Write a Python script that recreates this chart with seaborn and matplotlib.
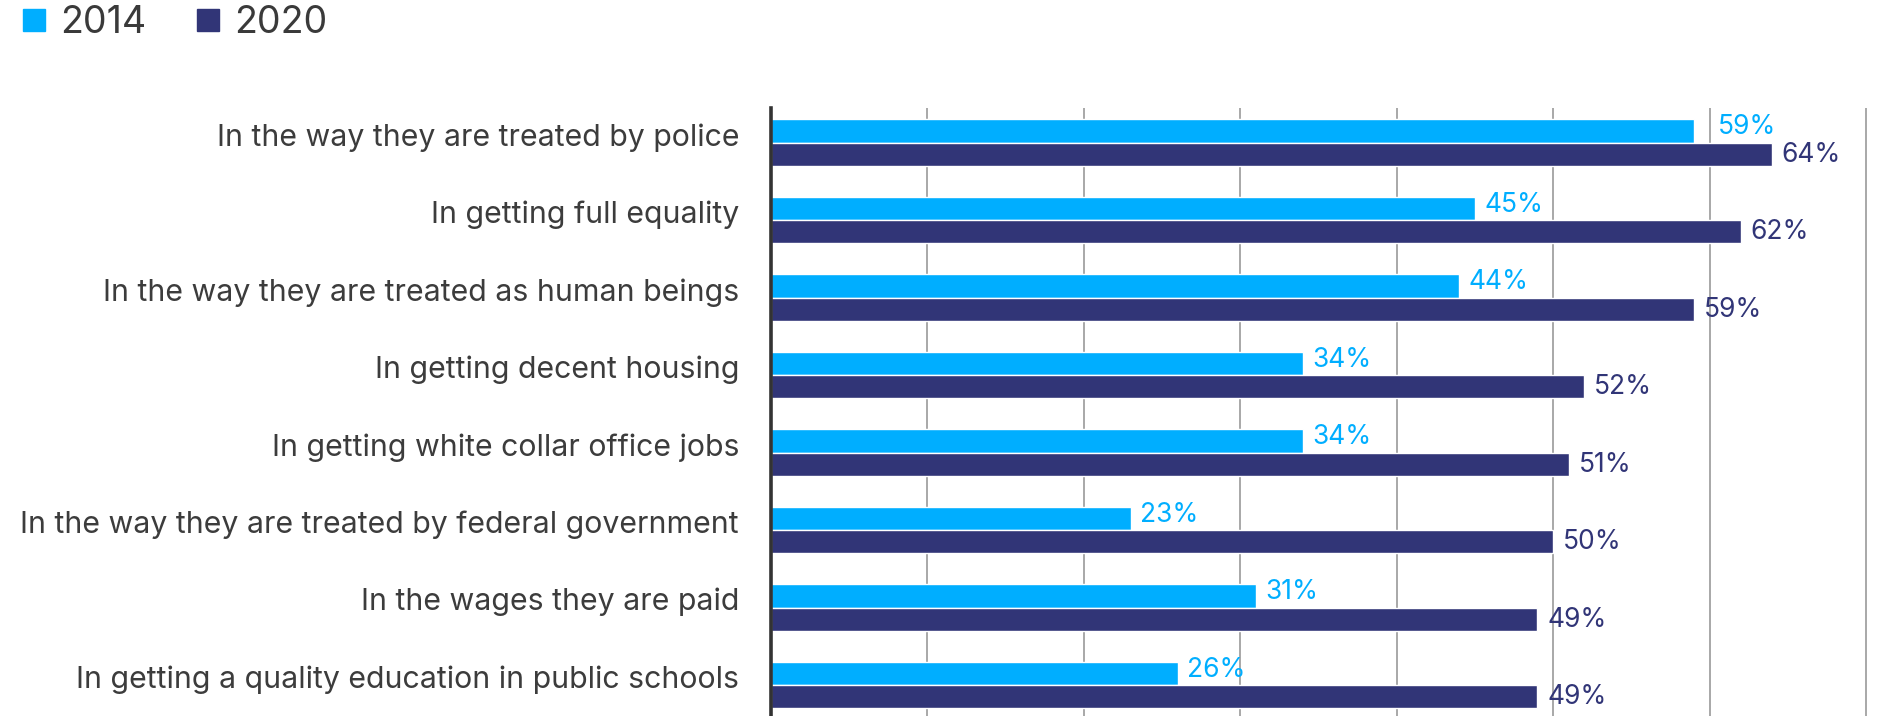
import matplotlib
matplotlib.use("Agg")
import matplotlib.pyplot as plt
from matplotlib.lines import Line2D
from matplotlib.transforms import ScaledTranslation
import seaborn as sns
import pandas as pd

categories = [
    "In the way they are treated by police",
    "In getting full equality",
    "In the way they are treated as human beings",
    "In getting decent housing",
    "In getting white collar office jobs",
    "In the way they are treated by federal government",
    "In the wages they are paid",
    "In getting a quality education in public schools",
]
values_2014 = [59, 45, 44, 34, 34, 23, 31, 26]
values_2020 = [64, 62, 59, 52, 51, 50, 49, 49]
years = ["2014", "2020"]
colors = {"2014": "#00AEFF", "2020": "#313577"}

df = pd.DataFrame({
    "category": categories * 2,
    "value": values_2014 + values_2020,
    "year": [years[0]] * len(categories) + [years[1]] * len(categories),
})

sns.set_theme(style="white")
plt.rcParams["font.family"] = ["Inter", "DejaVu Sans"]

W, H, DPI = 1878, 716, 100
fig = plt.figure(figsize=(W / DPI, H / DPI), dpi=DPI)
ax = fig.add_axes([771 / W, 0.0, 1 - 771 / W, 1 - 108 / H])

sns.barplot(data=df, x="value", y="category", hue="year", orient="h",
            palette=colors, width=0.60, gap=0, saturation=1,
            order=categories, hue_order=years, ax=ax, legend=False)

ax.set_xlim(0, 70.77)
ax.set_ylim(7.4, -0.448)
ax.set_xticks(range(0, 71, 10))
ax.set_xticklabels([])
ax.xaxis.grid(True, color="#A8A8A8", linewidth=1.4)
ax.yaxis.grid(False)
ax.set_axisbelow(True)
ax.set_xlabel("")
ax.set_ylabel("")
for side in ("top", "right", "bottom"):
    ax.spines[side].set_visible(False)
ax.spines["left"].set_color("#333333")
ax.spines["left"].set_linewidth(2.6)
ax.tick_params(axis="y", length=0, pad=23, labelsize=21.8, labelcolor="#3C3C3C")
ax.tick_params(axis="x", length=0)

# category labels sit slightly above the centre of each bar pair
lift = ScaledTranslation(0, 6 / 72, fig.dpi_scale_trans)
for lab in ax.get_yticklabels():
    lab.set_transform(lab.get_transform() + lift)

for container, yr in zip(ax.containers, years):
    texts = ax.bar_label(container,
                         labels=[f"{int(v)}%" for v in container.datavalues],
                         padding=7, fontsize=19, color=colors[yr])
    dy = 2.6 if yr == "2014" else -0.5
    for t in texts:
        t.xyann = (t.xyann[0], t.xyann[1] + dy)
    if yr == "2014":
        # nudge the top label clear of the 60% gridline
        texts[0].xyann = (17, texts[0].xyann[1])

handles = [Line2D([0], [0], marker="s", linestyle="none", markersize=16.5,
                  markerfacecolor=colors[y], markeredgecolor=colors[y]) for y in years]
fig.legend(handles, years, loc="center left", bbox_to_anchor=(21 / W, 1 - 23 / H),
           ncol=2, frameon=False, fontsize=27, labelcolor="#3A3A3A",
           handlelength=0.68, handletextpad=0.36, columnspacing=1.3,
           borderaxespad=0.0, borderpad=0.0)

fig.savefig("out.png", dpi=DPI)
